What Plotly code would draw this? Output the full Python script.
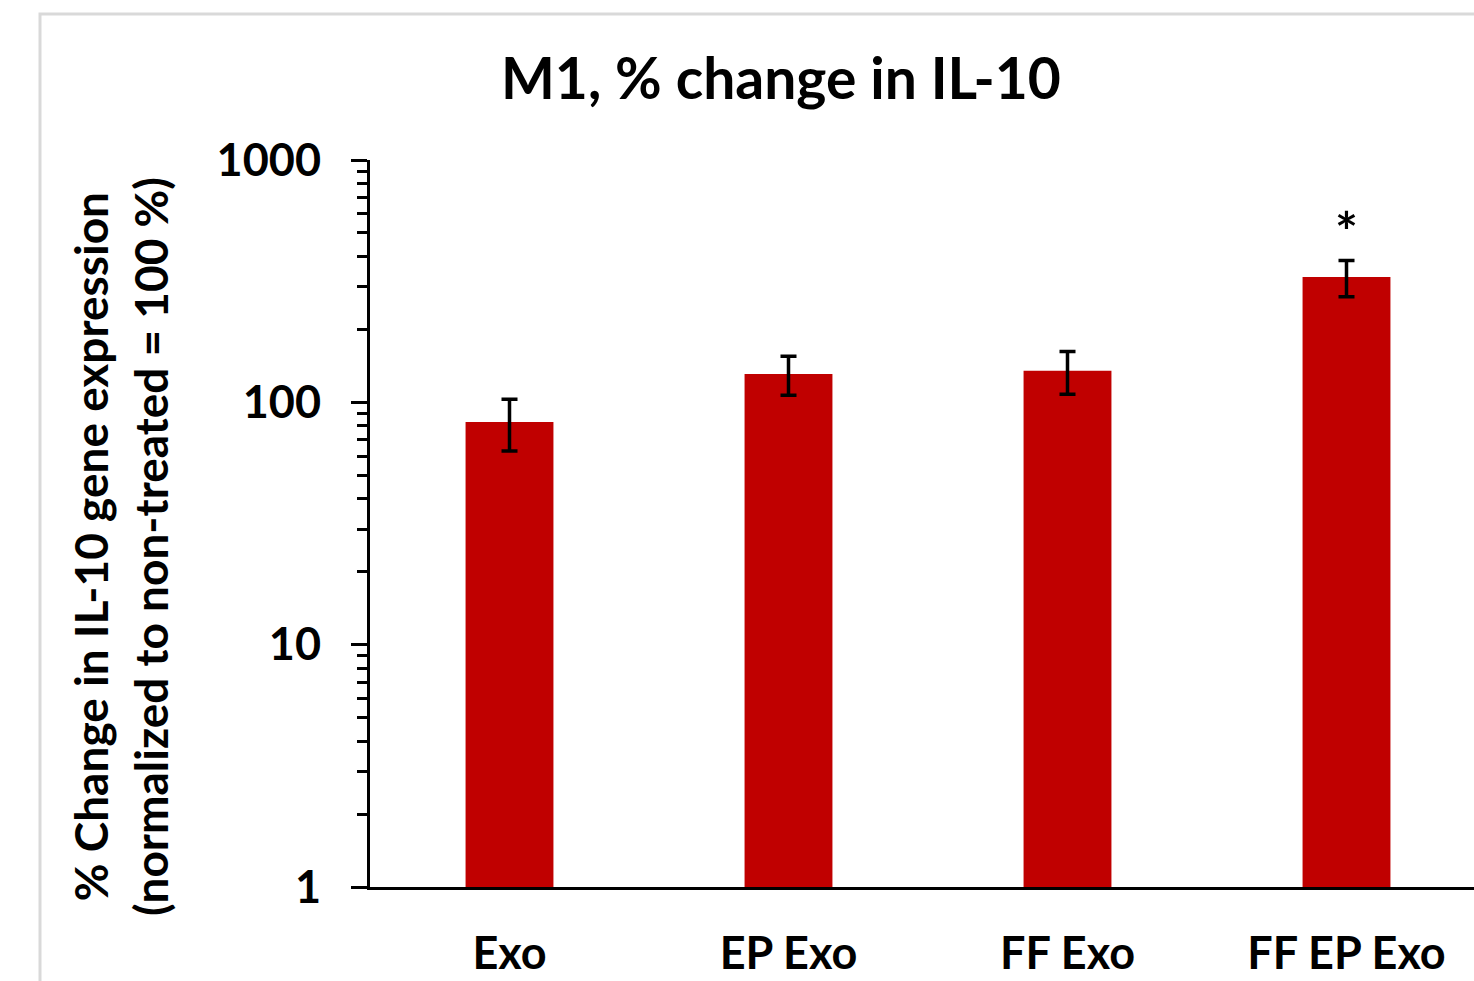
import math
import plotly.graph_objects as go

categories = ["Exo", "EP Exo", "FF Exo", "FF EP Exo"]
values = [83, 131, 135, 329]
errors = [20, 24, 27, 56]
significance = ["", "", "", "*"]

BAR_COLOR = "#C00000"
FONT = "Lato"

fig = go.Figure()
fig.add_trace(go.Bar(
    x=categories, y=values,
    marker=dict(color=BAR_COLOR, line=dict(width=0)),
    width=0.315,
    error_y=dict(type="data", array=errors, visible=True, color="black", thickness=3.5, width=8),
))

for cat, v, e, s in zip(categories, values, errors, significance):
    if s:
        fig.add_annotation(x=cat, y=math.log10(v + e), yref="y", xref="x",
                           text="<b>" + s + "</b>", showarrow=False, yanchor="middle", yshift=30,
                           font=dict(family=FONT, size=54, color="black"))

W, H = 1474, 981
L, R, T, B = 370, 0, 160, 94
pw, ph = W - L - R, H - T - B

def px(x):
    return (x - L) / pw

def py(y):
    return (H - B - y) / ph

minor_vals = [m * 10 ** k for k in range(3) for m in range(2, 10)]

fig.update_layout(
    width=W, height=H,
    margin=dict(l=L, r=R, t=T, b=B, pad=0),
    paper_bgcolor="white", plot_bgcolor="white",
    showlegend=False,
    font=dict(family=FONT, color="black"),
    xaxis=dict(
        range=[-0.5, 3.5 - 12 / 279], showgrid=False, zeroline=False,
        showline=True, linecolor="black", linewidth=3, ticks="",
        tickfont=dict(family=FONT, size=45, color="black", weight="bold"),
        ticklabelstandoff=25,
    ),
    yaxis=dict(
        type="log", range=[0, 3], showgrid=False, zeroline=False,
        showline=True, linecolor="black", linewidth=3,
        ticks="outside", ticklen=16, tickwidth=3, tickcolor="black",
        tickvals=[1, 10, 100, 1000], ticktext=["1", "10", "100", "1000"],
        tickfont=dict(family=FONT, size=45, color="black", weight="bold"),
        ticklabelstandoff=21,
        minor=dict(tickvals=minor_vals, ticks="outside", ticklen=10, tickwidth=3, tickcolor="black"),
    ),
)

fig.add_annotation(xref="paper", yref="paper", x=px(781), y=py(77),
                   text="<b>M1, % change in IL-10</b>", showarrow=False,
                   xanchor="center", yanchor="middle",
                   font=dict(family=FONT, size=57, color="black"))

fig.add_annotation(xref="paper", yref="paper", x=px(120), y=py(547),
                   text="<b>% Change in IL-10 gene expression<br>(normalized to non-treated = 100 %)</b>",
                   showarrow=False, textangle=-90, xanchor="center", yanchor="middle",
                   font=dict(family=FONT, size=46, color="black"))

fig.add_shape(type="rect", xref="paper", yref="paper",
              x0=px(40), x1=px(1600), y0=py(1100), y1=py(14),
              line=dict(color="#D9D9D9", width=3), fillcolor="rgba(0,0,0,0)", layer="below")

fig.write_html("out.html")
